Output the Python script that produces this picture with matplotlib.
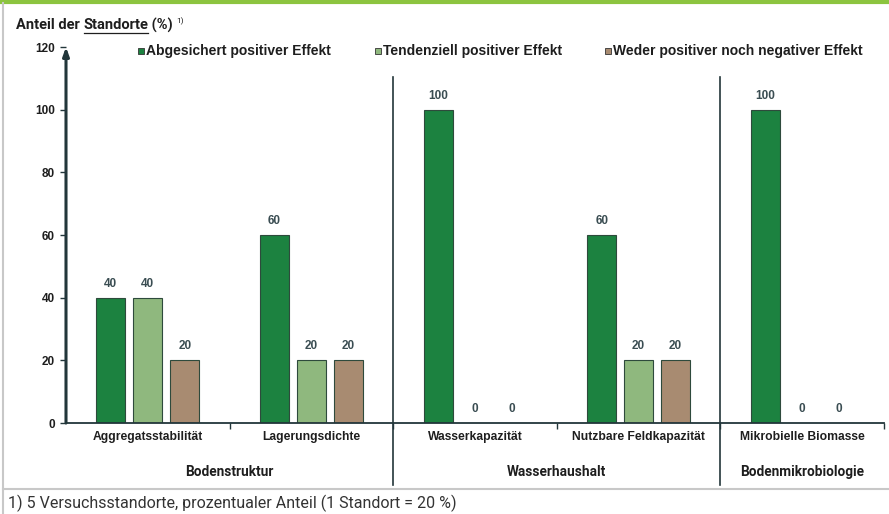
import matplotlib
matplotlib.use("Agg")
import matplotlib.pyplot as plt
from matplotlib.lines import Line2D
from matplotlib.patches import Rectangle

# Daten
kategorien = ["Aggregatsstabilität", "Lagerungsdichte", "Wasserkapazität",
              "Nutzbare Feldkapazität", "Mikrobielle Biomasse"]
gruppen = ["Bodenstruktur", "Wasserhaushalt", "Bodenmikrobiologie"]
gruppen_bereich = [(0, 1), (2, 3), (4, 4)]
serien = ["Abgesichert positiver Effekt", "Tendenziell positiver Effekt",
          "Weder positiver noch negativer Effekt"]
abgesichert = [40, 60, 100, 60, 100]
tendenziell = [40, 20, 0, 20, 0]
weder = [20, 20, 0, 20, 0]
y_ticks = [0, 20, 40, 60, 80, 100, 120]

farben = ["#1c8240", "#8fb87e", "#a88b71"]
DUNKEL = "#22363a"
TXT = "#1e1e1e"
W, H = 889, 514

fig = plt.figure(figsize=(W / 100, H / 100), dpi=100)

def fx(px):
    return px / W

def fy(py):
    return 1 - py / H

# Rahmen
fig.add_artist(Line2D([0, 1], [fy(1.5), fy(1.5)], color="#8cc43f", lw=3))
fig.add_artist(Line2D([fx(2.5), fx(2.5)], [fy(3), 0], color="#c8c8c8", lw=1.5))
fig.add_artist(Line2D([fx(2.5), 1], [fy(489), fy(489)], color="#c8c8c8", lw=1.5))

ax = fig.add_axes([fx(66), fy(423), fx(884) - fx(66), fy(47) - fy(423)])
ax.set_xlim(-0.5, 4.5)
ax.set_ylim(0, 120)

off, bw = 0.226, 0.177
xs = range(len(kategorien))
for k, (werte, farbe) in enumerate(zip([abgesichert, tendenziell, weder], farben)):
    pos = [x + (k - 1) * off for x in xs]
    bars = ax.bar(pos, werte, width=bw, color=farbe, edgecolor="#2e4a3c", linewidth=0.8)
    for b, v in zip(bars, werte):
        ax.text(b.get_x() + b.get_width() / 2, v + 2.6, f"{v}", ha="center", va="bottom",
                fontsize=8.5, fontweight="bold", color="#3a4d52", family="Liberation Sans")

for s in ["top", "right", "left"]:
    ax.spines[s].set_visible(False)
ax.spines["bottom"].set_color(DUNKEL)
ax.spines["bottom"].set_linewidth(1.3)

ax.set_yticks(y_ticks)
ax.set_yticklabels([str(t) for t in y_ticks])
ax.tick_params(axis="y", length=4, width=1, color=DUNKEL, pad=4, labelsize=8.5, labelcolor=TXT)
for lab in ax.get_yticklabels():
    lab.set_fontweight("bold")
    lab.set_family("Liberation Sans")
ax.set_xticks([0.5, 1.5, 2.5, 3.5, 4.5])
ax.set_xticklabels([])
ax.tick_params(axis="x", length=4, width=1, color=DUNKEL, direction="out")

# y-Achse mit Pfeil
ax.annotate("", xy=(-0.5, 120), xytext=(-0.5, 0), xycoords="data",
            arrowprops=dict(arrowstyle="-|>,head_length=0.5,head_width=0.18",
                            color=DUNKEL, lw=2.2, shrinkA=0, shrinkB=0),
            annotation_clip=False)

# Kategorien & Gruppen
for x, name in zip(xs, kategorien):
    ax.text(x, -4.5, name, ha="center", va="center", fontsize=8.7, fontweight="bold",
            color=TXT, family="Liberation Sans")
for (a, b), name in zip(gruppen_bereich, gruppen):
    ax.text((a + b) / 2, -15.5, name, ha="center", va="center", fontsize=9.8,
            fontweight="bold", color=TXT, family="Roboto")
for xsep in [1.5, 3.5]:
    ax.plot([xsep, xsep], [-19.8, 110.4], color=DUNKEL, lw=1.2, clip_on=False)

# Legende
for px, name, farbe in zip([141, 378, 608], serien, farben):
    fig.add_artist(Rectangle((fx(px - 3), fy(54)), fx(6), fy(48) - fy(54),
                             facecolor=farbe, edgecolor="#333333", lw=0.6))
    fig.text(fx(px + 5), fy(51), name, ha="left", va="center", fontsize=10,
             fontweight="bold", color=TXT, family="Liberation Sans")

# Titel
t = fig.text(fx(16), fy(25), "Anteil der ", ha="left", va="center", fontsize=10.5,
             fontweight="bold", color=TXT, family="Roboto")
fig.canvas.draw()
bb = t.get_window_extent()
t2 = fig.text(bb.x1 / W, fy(25), "Standorte", ha="left", va="center", fontsize=10.5,
              fontweight="bold", color=TXT, family="Roboto")
fig.canvas.draw()
bb2 = t2.get_window_extent()
fig.add_artist(Line2D([bb2.x0 / W, bb2.x1 / W], [fy(32.5), fy(32.5)], color=TXT, lw=0.9))
t3 = fig.text(bb2.x1 / W, fy(25), " (%)", ha="left", va="center", fontsize=10.5,
              fontweight="bold", color=TXT, family="Roboto")
fig.canvas.draw()
bb3 = t3.get_window_extent()
fig.text(bb3.x1 / W + fx(3), fy(21), "1)", ha="left", va="center", fontsize=6,
         color=TXT, family="Roboto")

# Fußnote
fig.text(fx(8), fy(503), "1) 5 Versuchsstandorte, prozentualer Anteil (1 Standort = 20 %)",
         ha="left", va="center", fontsize=11.5, color="#333333", family="Roboto")

fig.savefig("out.png", dpi=100)
